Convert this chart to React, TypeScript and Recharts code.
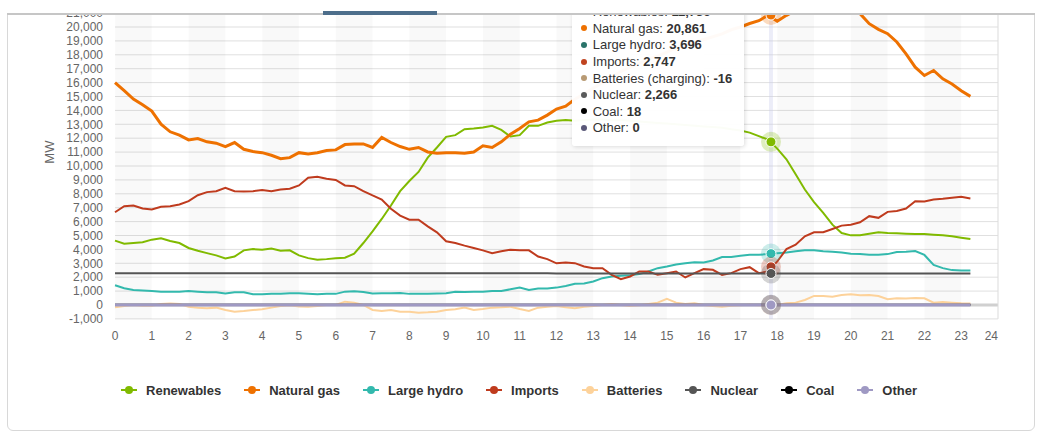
import React from 'react';
import {
  LineChart,
  Line,
  XAxis,
  YAxis,
  CartesianGrid,
  ReferenceArea,
  ReferenceLine,
  ReferenceDot,
} from 'recharts';

const FONT = '"Liberation Sans", Arial, Helvetica, sans-serif';

// ---- data (15-minute samples, hours of day) ----
const HOURS = [
  0, 0.25, 0.5, 0.75, 1, 1.25, 1.5, 1.75, 2, 2.25, 2.5, 2.75,
  3, 3.25, 3.5, 3.75, 4, 4.25, 4.5, 4.75, 5, 5.25, 5.5, 5.75,
  6, 6.25, 6.5, 6.75, 7, 7.25, 7.5, 7.75, 8, 8.25, 8.5, 8.75,
  9, 9.25, 9.5, 9.75, 10, 10.25, 10.5, 10.75, 11, 11.25, 11.5, 11.75,
  12, 12.25, 12.5, 12.75, 13, 13.25, 13.5, 13.75, 14, 14.25, 14.5, 14.75,
  15, 15.25, 15.5, 15.75, 16, 16.25, 16.5, 16.75, 17, 17.25, 17.5, 17.75,
  18, 18.25, 18.5, 18.75, 19, 19.25, 19.5, 19.75, 20, 20.25, 20.5, 20.75,
  21, 21.25, 21.5, 21.75, 22, 22.25, 22.5, 22.75, 23, 23.25,
];

const RENEWABLES = [
  4630, 4410, 4460, 4510, 4700, 4800, 4600, 4460, 4100, 3900, 3730, 3570,
  3350, 3490, 3930, 4020, 3980, 4070, 3900, 3930, 3570, 3370, 3250, 3300,
  3370, 3400, 3690, 4460, 5300, 6190, 7160, 8190, 8920, 9570, 10600, 11330,
  12100, 12220, 12650, 12700, 12770, 12890, 12600, 12120, 12220, 12890, 12890, 13130,
  13250, 13300, 13250, 13300, 13350, 13350, 13300, 13300, 13250, 13200, 13150, 13100,
  13050, 13000, 12950, 12900, 12850, 12800, 12750, 12650, 12550, 12400, 12150, 11900,
  11250, 10480, 9400, 8310, 7400, 6630, 5780, 5180, 5010, 5010, 5130, 5230,
  5180, 5160, 5130, 5110, 5110, 5060, 5010, 4940, 4840, 4750,
];

const NATURAL_GAS = [
  16000, 15420, 14820, 14410, 13950, 13010, 12460, 12220, 11880, 11980, 11740, 11640,
  11400, 11690, 11200, 11040, 10960, 10770, 10530, 10600, 10960, 10870, 10960, 11110,
  11160, 11540, 11590, 11590, 11330, 12050, 11690, 11400, 11200, 11330, 11010, 10920,
  10960, 10960, 10920, 11010, 11450, 11330, 11740, 12290, 12700, 13180, 13300, 13660,
  14100, 14300, 14800, 15200, 15600, 16000, 16400, 16800, 17100, 17400, 17700, 17900,
  18200, 18500, 18700, 18900, 19100, 19300, 19500, 19800, 20000, 20250, 20450, 20850,
  20410, 20840, 21200, 21500, 21700, 21800, 21700, 21500, 21200, 20960, 20240, 19830,
  19520, 18920, 18070, 17110, 16510, 16870, 16270, 15900, 15420, 15010,
];

const LARGE_HYDRO = [
  1420, 1200, 1080, 1040, 1010, 960, 960, 960, 1010, 960, 920, 920,
  820, 920, 920, 770, 770, 800, 800, 840, 840, 800, 770, 800,
  800, 960, 990, 940, 820, 840, 840, 870, 800, 800, 800, 820,
  840, 960, 940, 960, 960, 1010, 1010, 1130, 1250, 1080, 1180, 1180,
  1250, 1370, 1520, 1540, 1690, 1930, 2050, 2100, 2140, 2220, 2410, 2650,
  2770, 2920, 3010, 3080, 3060, 3200, 3450, 3450, 3540, 3610, 3610, 3660,
  3730, 3780, 3860, 3930, 3930, 3860, 3830, 3780, 3690, 3660, 3610, 3610,
  3660, 3810, 3830, 3880, 3600, 2890, 2650, 2510, 2480, 2480,
];

const IMPORTS = [
  6670, 7110, 7160, 6940, 6870, 7060, 7110, 7230, 7470, 7900, 8120, 8190,
  8430, 8190, 8170, 8190, 8270, 8190, 8310, 8360, 8600, 9160, 9230, 9080,
  9000, 8600, 8550, 8190, 7880, 7590, 6920, 6430, 6140, 6140, 5660, 5230,
  4580, 4460, 4270, 4100, 3930, 3730, 3860, 3980, 3930, 3930, 3490, 3300,
  3000, 3060, 3010, 2770, 2650, 2650, 2170, 1860, 2050, 2410, 2410, 2170,
  2290, 2410, 1980, 2290, 2580, 2530, 2170, 2290, 2580, 2720, 2290, 2410,
  3130, 4020, 4340, 4940, 5230, 5230, 5470, 5710, 5780, 5950, 6390, 6270,
  6700, 6770, 6940, 7470, 7450, 7590, 7640, 7710, 7780, 7660,
];

const BATTERIES = [
  -170, -70, 0, -50, -50, 70, 100, 70, -120, -190, -240, -190,
  -360, -480, -430, -360, -310, -190, -70, -20, -100, -120, -70, 0,
  0, 240, 170, 0, -360, -430, -360, -480, -480, -550, -530, -480,
  -360, -310, -190, -360, -290, -190, -170, -120, -290, -430, -190, -120,
  -70, -170, -240, -120, -70, 0, 70, 0, -70, -20, 70, 170,
  450, 170, 70, 120, 0, -70, -120, -50, -20, 20, -20, -20,
  0, 120, 170, 360, 650, 650, 600, 720, 770, 700, 720, 650,
  410, 480, 460, 500, 480, 170, 220, 170, 120, 100,
];

const NUCLEAR = [
  2290, 2290, 2290, 2290, 2290, 2290, 2290, 2290, 2290, 2290, 2290, 2290,
  2290, 2290, 2290, 2290, 2290, 2290, 2290, 2290, 2290, 2290, 2290, 2290,
  2290, 2290, 2290, 2290, 2290, 2290, 2290, 2290, 2290, 2290, 2290, 2290,
  2280, 2280, 2280, 2280, 2280, 2280, 2280, 2280, 2280, 2280, 2280, 2280,
  2270, 2270, 2270, 2270, 2270, 2270, 2270, 2270, 2270, 2270, 2270, 2270,
  2266, 2266, 2266, 2266, 2266, 2266, 2266, 2266, 2266, 2266, 2266, 2266,
  2266, 2266, 2266, 2266, 2266, 2266, 2266, 2266, 2266, 2266, 2266, 2266,
  2266, 2266, 2266, 2266, 2266, 2266, 2266, 2266, 2266, 2266,
];

const COAL = [
  18, 18, 18, 18, 18, 18, 18, 18, 18, 18, 18, 18,
  18, 18, 18, 18, 18, 18, 18, 18, 18, 18, 18, 18,
  18, 18, 18, 18, 18, 18, 18, 18, 18, 18, 18, 18,
  18, 18, 18, 18, 18, 18, 18, 18, 18, 18, 18, 18,
  18, 18, 18, 18, 18, 18, 18, 18, 18, 18, 18, 18,
  18, 18, 18, 18, 18, 18, 18, 18, 18, 18, 18, 18,
  18, 18, 18, 18, 18, 18, 18, 18, 18, 18, 18, 18,
  18, 18, 18, 18, 18, 18, 18, 18, 18, 18,
];

const OTHER = [
  0, 0, 0, 0, 0, 0, 0, 0, 0, 0, 0, 0,
  0, 0, 0, 0, 0, 0, 0, 0, 0, 0, 0, 0,
  0, 0, 0, 0, 0, 0, 0, 0, 0, 0, 0, 0,
  0, 0, 0, 0, 0, 0, 0, 0, 0, 0, 0, 0,
  0, 0, 0, 0, 0, 0, 0, 0, 0, 0, 0, 0,
  0, 0, 0, 0, 0, 0, 0, 0, 0, 0, 0, 0,
  0, 0, 0, 0, 0, 0, 0, 0, 0, 0, 0, 0,
  0, 0, 0, 0, 0, 0, 0, 0, 0, 0,
];

// hovered point (tooltip)
const HOVER_HOUR = 17.83;
const HOVER_LABEL = '5:50 PM';
const HOVER_VALUES = [11736, 20861, 3696, 2747, -16, 2266, 18, 0];

const X_TICKS = [0, 1, 2, 3, 4, 5, 6, 7, 8, 9, 10, 11, 12, 13, 14, 15, 16, 17, 18, 19, 20, 21, 22, 23, 24];
const Y_TICKS = [
  -1000, 0, 1000, 2000, 3000, 4000, 5000, 6000, 7000, 8000, 9000, 10000, 11000,
  12000, 13000, 14000, 15000, 16000, 17000, 18000, 19000, 20000, 21000, 22000, 23000,
];
const BANDS = [[0, 1], [2, 3], [4, 5], [6, 7], [8, 9], [10, 11], [12, 13], [14, 15], [16, 17], [18, 19], [20, 21], [22, 23]];

const SERIES = [
  { key: 'renewables', name: 'Renewables', tipName: 'Renewables', values: RENEWABLES, color: '#80ba00', tipColor: '#80ba00', width: 2 },
  { key: 'gas', name: 'Natural gas', tipName: 'Natural gas', values: NATURAL_GAS, color: '#ee7100', tipColor: '#ee7100', width: 3 },
  { key: 'hydro', name: 'Large hydro', tipName: 'Large hydro', values: LARGE_HYDRO, color: '#33b9ad', tipColor: '#2a746a', width: 2 },
  { key: 'imports', name: 'Imports', tipName: 'Imports', values: IMPORTS, color: '#bf3b1e', tipColor: '#c0431f', width: 2 },
  { key: 'batteries', name: 'Batteries', tipName: 'Batteries (charging)', values: BATTERIES, color: '#fdd29a', tipColor: '#b89a74', width: 2 },
  { key: 'nuclear', name: 'Nuclear', tipName: 'Nuclear', values: NUCLEAR, color: '#555555', tipColor: '#5a5a5a', width: 2 },
  { key: 'coal', name: 'Coal', tipName: 'Coal', values: COAL, color: '#000000', tipColor: '#000000', width: 2 },
  { key: 'other', name: 'Other', tipName: 'Other', values: OTHER, color: '#9f99c3', tipColor: '#5a5878', width: 3 },
];

const data = HOURS.map((h, i) => {
  const row: Record<string, number> = { t: h };
  SERIES.forEach((s) => {
    row[s.key] = s.values[i];
  });
  return row;
});

const fmt = (v: number) => v.toLocaleString('en-US');

const XTick = (props: any) => {
  const { x, y, payload } = props;
  const last = payload.value === 24;
  return (
    <text x={x} y={y} dy="0.71em" textAnchor={last ? 'end' : 'middle'} fill="#666" fontSize={12} fontFamily={FONT}>
      {payload.value}
    </text>
  );
};

const MWLabel = (props: any) => {
  const vb = props.viewBox || { x: 0, y: -14.7, width: 115, height: 333.6 };
  const cx = vb.x + 49;
  const cy = vb.y + vb.height / 2;
  return (
    <text
      x={cx}
      y={cy}
      transform={`rotate(-90 ${cx} ${cy})`}
      textAnchor="middle"
      dominantBaseline="central"
      fill="#666"
      fontSize={13}
      fontFamily={FONT}
    >
      MW
    </text>
  );
};

const hoverShape = (color: string) => (p: any) => (
  <g>
    <circle cx={p.cx} cy={p.cy} r={10} fill={color} fillOpacity={0.25} />
    <circle cx={p.cx} cy={p.cy} r={5} fill={color} stroke="#ffffff" strokeWidth={1} />
  </g>
);

const LegendSymbol = ({ color }: { color: string }) => (
  <svg width={16} height={12} style={{ display: 'block', marginRight: 9 }}>
    <line x1={0} y1={6} x2={16} y2={6} stroke={color} strokeWidth={2} />
    <circle cx={8} cy={6} r={4} fill={color} />
  </svg>
);

export default function App() {
  return (
    <div
      style={{
        position: 'absolute',
        left: 0,
        top: 0,
        width: 1038,
        height: 433,
        overflow: 'hidden',
        background: '#ffffff',
        fontFamily: FONT,
      }}
    >
      {/* card */}
      <div
        style={{
          position: 'absolute',
          left: 7,
          top: -20,
          width: 1028,
          height: 451,
          boxSizing: 'border-box',
          border: '1px solid #d8d8d8',
          borderRadius: 6,
        }}
      />

      {/* chart */}
      <div style={{ position: 'absolute', left: 0, top: -40 }}>
        <LineChart width={1038} height={398.9} data={data} margin={{ top: 25.3, right: 40, bottom: 0, left: 0 }}>
          <CartesianGrid horizontal vertical={false} stroke="#e0e0e0" />
          {BANDS.map(([a, b]) => (
            <ReferenceArea key={a} x1={a} x2={b} fill="#000000" fillOpacity={0.024} stroke="none" />
          ))}
          <XAxis
            dataKey="t"
            type="number"
            domain={[0, 24]}
            ticks={X_TICKS}
            interval={0}
            tick={<XTick />}
            tickLine={false}
            axisLine={false}
            tickSize={6}
            tickMargin={7}
            height={40}
          />
          <YAxis
            type="number"
            domain={[-1000, 23000]}
            ticks={Y_TICKS}
            interval={0}
            width={115}
            tickFormatter={fmt}
            tick={{ fill: '#666', fontSize: 12, fontFamily: FONT }}
            tickLine={false}
            axisLine={false}
            tickSize={6}
            tickMargin={6}
            label={<MWLabel />}
          />
          <ReferenceLine y={0} stroke="#d0d0d0" strokeWidth={3} />
          <ReferenceLine x={24} stroke="#dcdcdc" />
          <ReferenceLine x={HOVER_HOUR} stroke="rgba(200,204,236,0.35)" strokeWidth={4} />
          {SERIES.map((s) => (
            <Line
              key={s.key}
              dataKey={s.key}
              name={s.name}
              type="linear"
              stroke={s.color}
              strokeWidth={s.width}
              dot={false}
              activeDot={false}
              isAnimationActive={false}
            />
          ))}
          {SERIES.map((s, i) => (
            <ReferenceDot key={'h' + s.key} x={HOVER_HOUR} y={HOVER_VALUES[i]} r={5} shape={hoverShape(s.color)} />
          ))}
        </LineChart>
      </div>

      {/* tooltip */}
      <div
        style={{
          position: 'absolute',
          left: 572,
          top: -20,
          width: 172,
          height: 166,
          boxSizing: 'border-box',
          background: 'rgba(255,255,255,0.97)',
          borderRadius: 3,
          boxShadow: '1px 1px 4px rgba(0,0,0,0.14)',
          paddingTop: 7,
          color: '#333',
          fontSize: 13,
          fontFamily: FONT,
        }}
      >
        <div style={{ height: 16.57, lineHeight: '16.57px', paddingLeft: 9, fontSize: 10 }}>{HOVER_LABEL}</div>
        {SERIES.map((s, i) => (
          <div key={s.key} style={{ display: 'flex', alignItems: 'center', height: 16.57, whiteSpace: 'nowrap' }}>
            <span
              style={{
                display: 'inline-block',
                width: 6,
                height: 6,
                borderRadius: 3,
                background: s.tipColor,
                marginLeft: 9,
                marginRight: 5.7,
              }}
            />
            <span>
              {s.tipName}: <b>{fmt(HOVER_VALUES[i])}</b>
            </span>
          </div>
        ))}
      </div>

      {/* legend */}
      <div
        style={{
          position: 'absolute',
          left: 0,
          top: 380,
          width: 1038,
          height: 20,
          display: 'flex',
          justifyContent: 'center',
          alignItems: 'center',
          gap: 23,
        }}
      >
        {SERIES.map((s) => (
          <div key={s.key} style={{ display: 'flex', alignItems: 'center' }}>
            <LegendSymbol color={s.color} />
            <span style={{ fontSize: 13, fontWeight: 'bold', color: '#333', whiteSpace: 'nowrap' }}>{s.name}</span>
          </div>
        ))}
      </div>

      {/* header strip that hides the top of the chart */}
      <div style={{ position: 'absolute', left: 0, top: 0, width: 1038, height: 13, background: '#ffffff' }} />
      <div style={{ position: 'absolute', left: 7, top: 13, width: 1028, height: 2, background: '#c6c6c6' }} />
      <div style={{ position: 'absolute', left: 323, top: 11, width: 114, height: 4, background: '#4d6e8b' }} />
    </div>
  );
}
